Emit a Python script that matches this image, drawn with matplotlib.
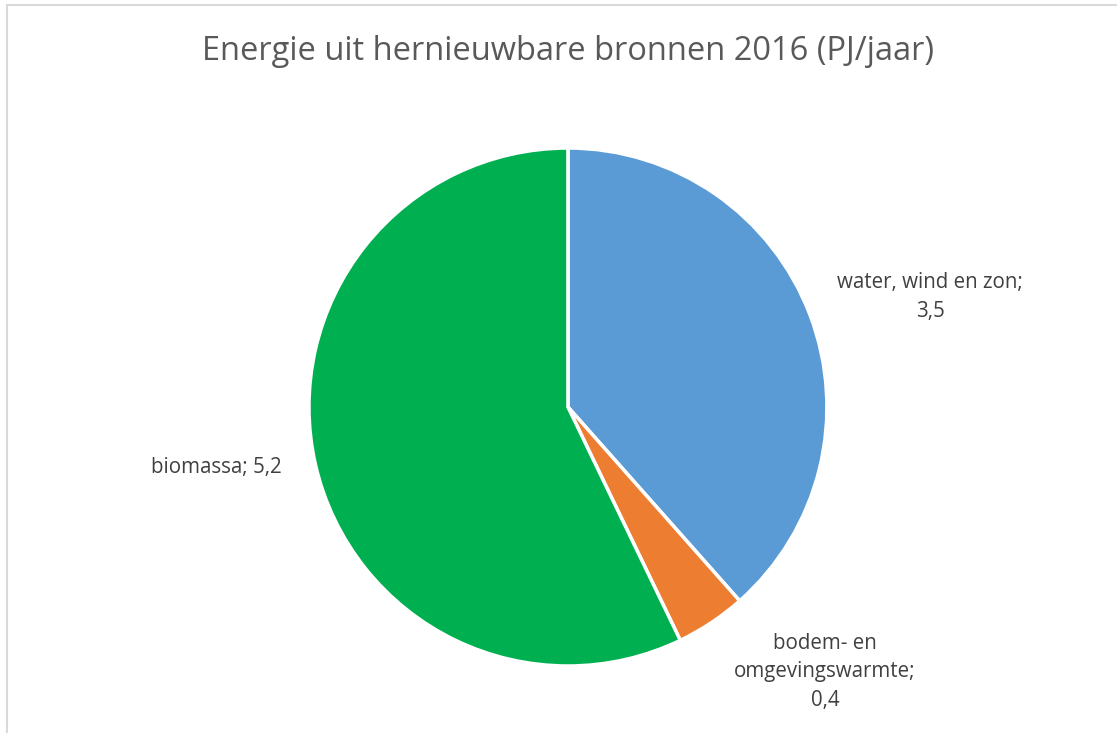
import matplotlib.pyplot as plt
from matplotlib.patches import Rectangle

# Data
categories = ['water, wind en zon', 'bodem- en\nomgevingswarmte', 'biomassa']
values = [3.5, 0.4, 5.2]
value_labels = ['3,5', '0,4', '5,2']
colors = ['#5B9BD5', '#ED7D31', '#00B050']

plt.rcParams['font.family'] = ['Open Sans', 'DejaVu Sans']

fig = plt.figure(figsize=(11.17, 7.33), dpi=100)

# chart area border (only left and top visible)
fig.patches.append(Rectangle((7 / 1117, -0.1), 1.2, (733 - 5) / 733 + 0.1,
                             transform=fig.transFigure, fill=False,
                             edgecolor='#D9D9D9', linewidth=1.5))

ax = fig.add_axes([0.2766, 0.0914, 0.4637, 0.7067])
ax.pie(values, colors=colors, startangle=90, counterclock=False,
       wedgeprops=dict(edgecolor='white', linewidth=2.5))
ax.set_xlim(-1, 1)
ax.set_ylim(-1, 1)
ax.set_aspect('equal')
ax.axis('off')

# data labels
label_pos = [(1.398, 0.425), (0.992, -1.023), (-1.359, -0.232)]
texts = [
    categories[0] + ';\n' + value_labels[0],
    categories[1] + ';\n' + value_labels[1],
    categories[2] + '; ' + value_labels[2],
]
for (x, y), t in zip(label_pos, texts):
    ax.text(x, y, t, ha='center', va='center', fontsize=14.8, color='#404040',
            linespacing=1.45, clip_on=False)

fig.text(568 / 1117, 1 - 52 / 733, 'Energie uit hernieuwbare bronnen 2016 (PJ/jaar)',
         ha='center', va='center', fontsize=23.5, color='#595959')

fig.savefig('out.png', dpi=100)
